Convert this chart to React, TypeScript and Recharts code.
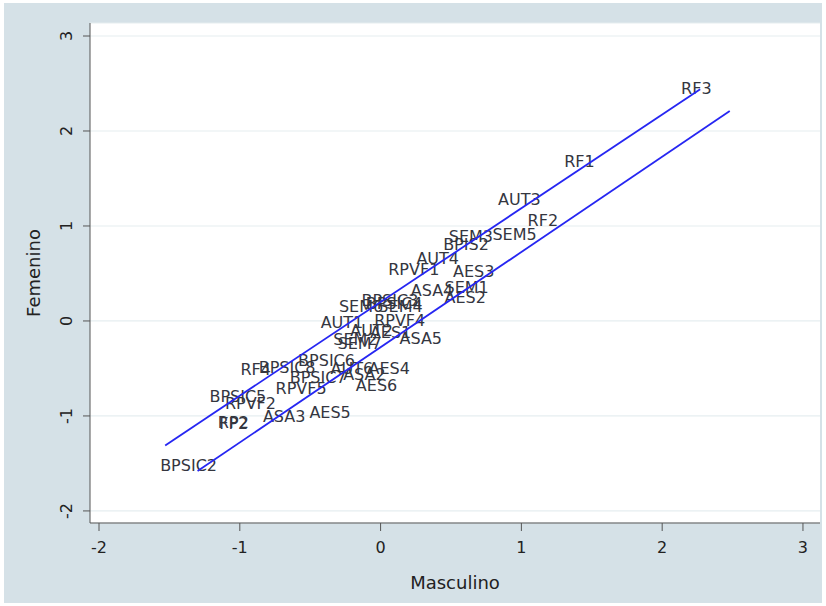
import { ScatterChart, Scatter, XAxis, YAxis, CartesianGrid } from "recharts";

// item codes with their standardised scores for each group
const codes = [
  "RF3", "RF1", "AUT3", "RF2", "SEM3", "SEM5", "BPIS2", "AUT4", "RPVF1", "AES3",
  "SEM1", "ASA4", "AES2", "BPSIC3", "BPSIC4", "SEM6", "SEM4", "AUT1", "RPVF4", "AUT2",
  "AES1", "SEM2", "SEM7", "ASA5", "BPSIC6", "RF4", "BPSIC8", "AUT6", "AES4", "BPSIC7",
  "ASA2", "RPVF5", "AES6", "BPSIC5", "RPVF2", "RP2", "FP2", "ASA3", "AES5", "BPSIC2",
];
const masculino = [
  2.12, 1.29, 0.82, 1.03, 0.47, 0.78, 0.43, 0.24, 0.04, 0.5,
  0.44, 0.2, 0.44, -0.15, -0.12, -0.31, -0.03, -0.44, -0.06, -0.23,
  -0.09, -0.35, -0.32, 0.12, -0.6, -1.01, -0.88, -0.37, -0.1, -0.66,
  -0.28, -0.76, -0.19, -1.23, -1.12, -1.17, -1.16, -0.85, -0.52, -1.58,
];
const femenino = [
  2.45, 1.68, 1.28, 1.06, 0.89, 0.91, 0.81, 0.66, 0.54, 0.52,
  0.35, 0.32, 0.25, 0.22, 0.18, 0.15, 0.15, -0.02, 0.0, -0.1,
  -0.12, -0.2, -0.24, -0.18, -0.42, -0.51, -0.49, -0.5, -0.5, -0.59,
  -0.56, -0.71, -0.68, -0.79, -0.87, -1.07, -1.08, -1.01, -0.96, -1.52,
];

// two fitted reference lines (start and end points)
const upperLineX = [-1.53, 2.27];
const upperLineY = [-1.31, 2.44];
const lowerLineX = [-1.3, 2.48];
const lowerLineY = [-1.58, 2.21];

const xTicks = [-2, -1, 0, 1, 2, 3];
const yTicks = [-2, -1, 0, 1, 2, 3];

const items = codes.map((code, i) => ({ code, x: masculino[i], y: femenino[i] }));
const upperLine = upperLineX.map((x, i) => ({ x, y: upperLineY[i] }));
const lowerLine = lowerLineX.map((x, i) => ({ x, y: lowerLineY[i] }));

const FONT = "DejaVu Sans, sans-serif";
const LINE = { stroke: "#2626f2", strokeWidth: 1.8 };

const CodeLabel = (props: any) => (
  <text
    x={props.cx + 2}
    y={props.cy}
    dominantBaseline="central"
    fontSize={16}
    fontFamily={FONT}
    fill="#34363f"
  >
    {props.payload.code}
  </text>
);

const YTick = (props: any) => {
  const x = props.x - 14;
  const y = props.y;
  return (
    <text
      x={x}
      y={y}
      transform={`rotate(-90 ${x} ${y})`}
      textAnchor="middle"
      dominantBaseline="central"
      fontSize={16}
      fontFamily={FONT}
      fill="#222"
    >
      {props.payload.value}
    </text>
  );
};

export default function App() {
  return (
    <div style={{ position: "absolute", left: 0, top: 0, width: 826, height: 606, background: "#fff" }}>
      <div style={{ position: "absolute", left: 4, top: 3, width: 818, height: 600, background: "#d5e1e7" }} />
      <div style={{ position: "absolute", left: 0, top: 0 }}>
        <ScatterChart width={826} height={606} margin={{ top: 23, right: 6, bottom: 0, left: 0 }}>
          <CartesianGrid vertical={false} fill="#fff" stroke="#e6eef0" strokeWidth={1.2} />
          <XAxis
            type="number"
            dataKey="x"
            domain={[-2.064, 3.121]}
            allowDataOverflow
            ticks={xTicks}
            height={83}
            tickSize={8}
            tickMargin={11}
            stroke="#555"
            tick={{ fontSize: 16, fontFamily: FONT, fill: "#222" }}
            label={{
              content: (p: any) => (
                <text
                  x={p.viewBox.x + p.viewBox.width / 2}
                  y={p.viewBox.y + 59}
                  textAnchor="middle"
                  dominantBaseline="central"
                  fontSize={18}
                  fontFamily={FONT}
                  fill="#222"
                >
                  Masculino
                </text>
              ),
            }}
          />
          <YAxis
            type="number"
            dataKey="y"
            domain={[-2.127, 3.137]}
            allowDataOverflow
            ticks={yTicks}
            width={90}
            tickSize={7}
            tickMargin={2}
            stroke="#555"
            tick={<YTick />}
            label={{
              content: (p: any) => {
                const x = 33;
                const y = p.viewBox.y + p.viewBox.height / 2;
                return (
                  <text
                    x={x}
                    y={y}
                    transform={`rotate(-90 ${x} ${y})`}
                    textAnchor="middle"
                    dominantBaseline="central"
                    fontSize={18}
                    fontFamily={FONT}
                    fill="#222"
                  >
                    Femenino
                  </text>
                );
              },
            }}
          />
          <Scatter data={items} shape={<CodeLabel />} isAnimationActive={false} />
          <Scatter data={upperLine} line={LINE} shape={() => <g />} isAnimationActive={false} />
          <Scatter data={lowerLine} line={LINE} shape={() => <g />} isAnimationActive={false} />
        </ScatterChart>
      </div>
    </div>
  );
}
